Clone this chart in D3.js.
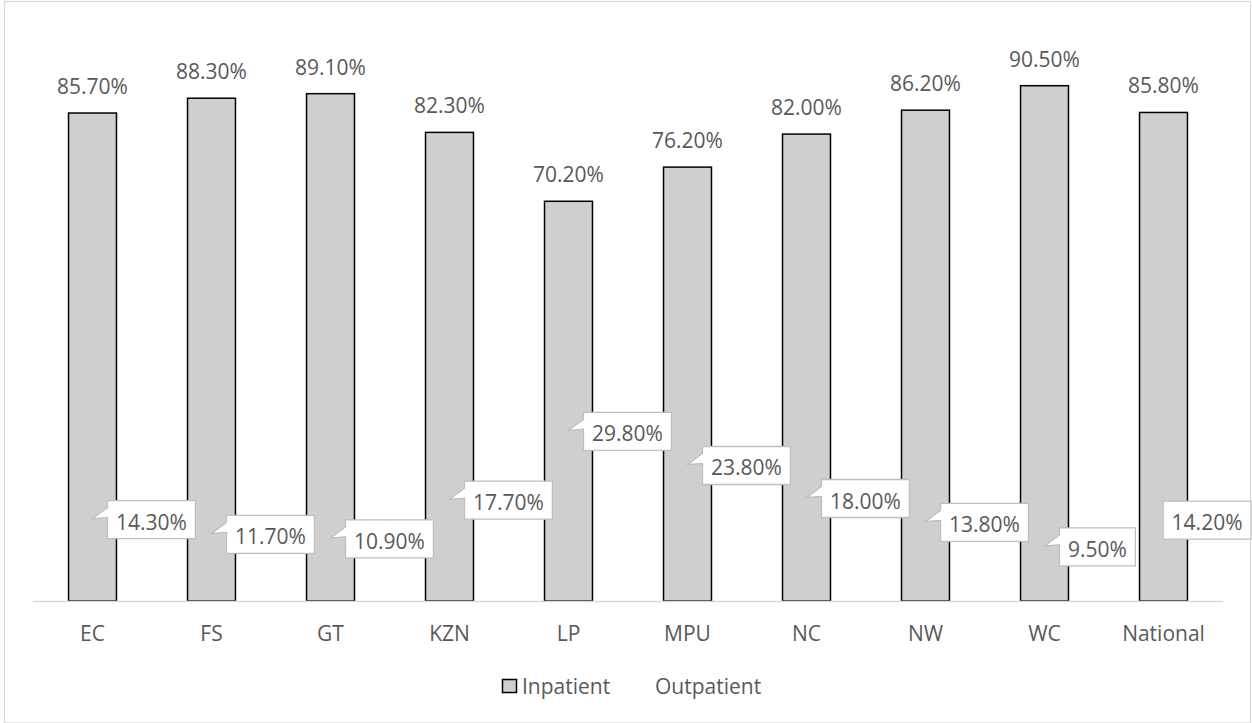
<!DOCTYPE html>
<html>
<head>
<meta charset="utf-8">
<script src="https://cdn.jsdelivr.net/npm/d3@7"></script>
<style>
  html, body { margin: 0; padding: 0; background: #ffffff; }
  svg { display: block; font-family: "Open Sans", sans-serif; }
</style>
</head>
<body>
<svg id="chart" width="1252" height="723"></svg>
<script>
// Provinces and national total
const categories = ["EC", "FS", "GT", "KZN", "LP", "MPU", "NC", "NW", "WC", "National"];
// Share of inpatient and outpatient (%)
const inpatient  = [85.7, 88.3, 89.1, 82.3, 70.2, 76.2, 82.0, 86.2, 90.5, 85.8];
const outpatient = [14.3, 11.7, 10.9, 17.7, 29.8, 23.8, 18.0, 13.8, 9.5, 14.2];
const seriesNames = ["Inpatient", "Outpatient"];

const W = 1252, H = 723;
const textColor = "#595959";
const barFill = "#d0cfd0";
const fontSize = 21;

const svg = d3.select("#chart");

// outer chart frame
svg.append("rect")
  .attr("x", 4.5).attr("y", 1.5)
  .attr("width", 1246).attr("height", 721.5)
  .attr("fill", "#ffffff")
  .attr("stroke", "#d9d9d9").attr("stroke-width", 1.3);

const x = d3.scaleBand()
  .domain(categories)
  .range([33, 1223])
  .paddingInner(0.597)
  .paddingOuter(0.2985);

const y = d3.scaleLinear()
  .domain([0, 100])
  .range([601, 31.6]);

const fmt = v => v.toFixed(2) + "%";

// bars
svg.append("g").selectAll("rect")
  .data(categories)
  .join("rect")
  .attr("x", d => x(d))
  .attr("y", (d, i) => y(inpatient[i]))
  .attr("width", x.bandwidth())
  .attr("height", (d, i) => y(0) - y(inpatient[i]))
  .attr("fill", barFill)
  .attr("stroke", "#000000")
  .attr("stroke-width", 1.5);

// category axis
const xAxis = svg.append("g")
  .attr("transform", `translate(0,${y(0)})`)
  .call(d3.axisBottom(x).tickSize(0).tickPadding(0));
xAxis.select(".domain")
  .attr("d", `M33,0.5H1223`)
  .attr("stroke", "#d9d9d9").attr("stroke-width", 1.5);
xAxis.selectAll(".tick text")
  .attr("y", 40)
  .attr("dy", null)
  .attr("fill", textColor)
  .style("font-size", fontSize + "px")
  .style("font-family", '"Open Sans", sans-serif');

// inpatient value labels above bars
svg.append("g").selectAll("text")
  .data(categories)
  .join("text")
  .attr("x", d => x(d) + x.bandwidth() / 2)
  .attr("y", (d, i) => y(inpatient[i]) - 19)
  .attr("text-anchor", "middle")
  .attr("fill", textColor)
  .style("font-size", fontSize + "px")
  .text((d, i) => fmt(inpatient[i]));

// outpatient callout labels
const callouts = svg.append("g");
categories.forEach((c, i) => {
  const tipX = x(c) + x.bandwidth() / 2;
  const tipY = y(outpatient[i]);
  const g = callouts.append("g");
  const path = g.append("path");
  const t = g.append("text")
    .attr("fill", textColor)
    .style("font-size", fontSize + "px")
    .text(fmt(outpatient[i]));
  const tw = t.node().getComputedTextLength();
  const bw = tw + 17, bh = 38;
  let left = tipX + 15;
  left = Math.min(left, 1251 - bw);
  const top = tipY - 19;
  const right = left + bw, bottom = top + bh;
  let d;
  if (left - tipX > 3) {
    d = `M${left},${top}H${right}V${bottom}H${left}V${top + 17}L${tipX},${tipY - 1}L${left},${top + 7}Z`;
  } else {
    d = `M${left},${top}H${right}V${bottom}H${left}Z`;
  }
  path.attr("d", d)
    .attr("fill", "#ffffff")
    .attr("stroke", "#bfbfbf")
    .attr("stroke-width", 1.3);
  t.attr("x", left + 8.5).attr("y", tipY + 10);
});

// legend
const legend = svg.append("g");
legend.append("rect")
  .attr("x", 502.5).attr("y", 679.5)
  .attr("width", 14).attr("height", 13)
  .attr("fill", barFill)
  .attr("stroke", "#000000").attr("stroke-width", 1.5);
legend.append("text")
  .attr("x", 522).attr("y", 693.5)
  .attr("fill", textColor)
  .style("font-size", fontSize + "px")
  .text(seriesNames[0]);
legend.append("text")
  .attr("x", 655).attr("y", 693.5)
  .attr("fill", textColor)
  .style("font-size", fontSize + "px")
  .text(seriesNames[1]);
</script>
</body>
</html>
